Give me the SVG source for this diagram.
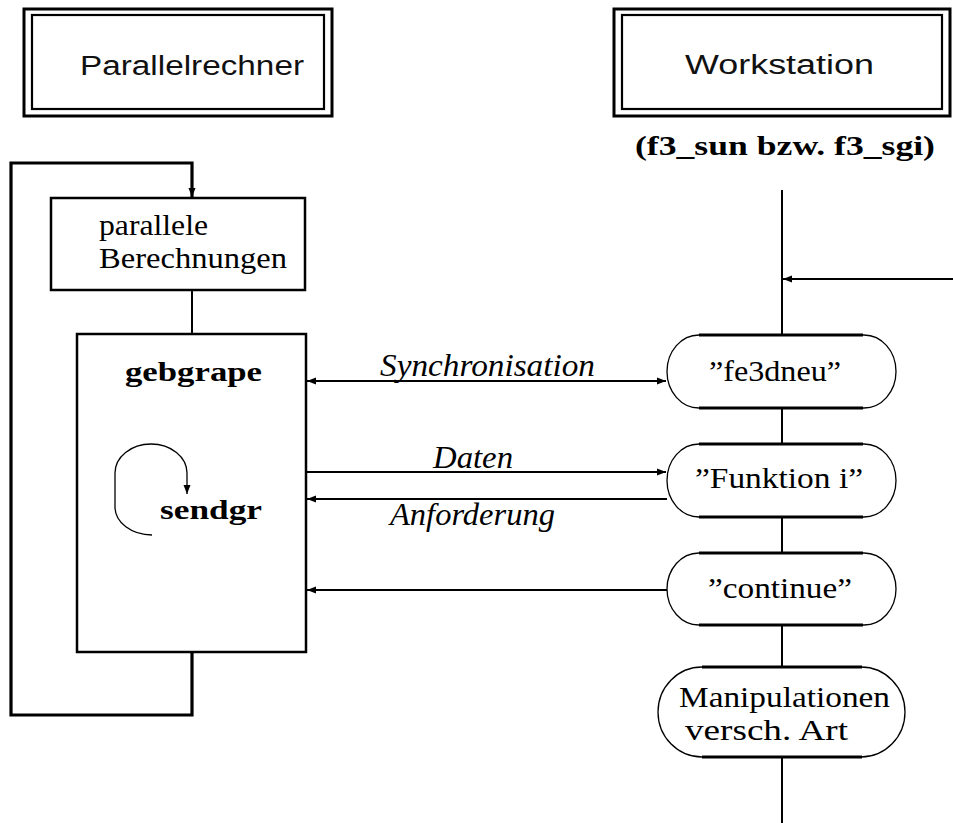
<svg xmlns="http://www.w3.org/2000/svg" width="953" height="823" viewBox="0 0 953 823">
<style>
.bg{fill:#fff}
.box{fill:none;stroke:#000;stroke-width:2.5}
.outer{fill:none;stroke:#000;stroke-width:3}
.inner{fill:none;stroke:#000;stroke-width:2.2}
.thin{fill:none;stroke:#000;stroke-width:1.3}
.edge{fill:none;stroke:#000;stroke-width:3}
.ln{fill:none;stroke:#000;stroke-width:2}
.loop{fill:none;stroke:#000;stroke-width:3.2}
.sans{font-family:"Liberation Sans","DejaVu Sans",sans-serif;font-size:27px;fill:#111}
.rm{font-family:"Liberation Serif","DejaVu Serif",serif;font-size:30px;fill:#000}
.bf{font-family:"Liberation Serif","DejaVu Serif",serif;font-size:28px;font-weight:bold;fill:#000}
.it{font-family:"Liberation Serif","DejaVu Serif",serif;font-size:31px;font-style:italic;fill:#000}
</style>
<defs>
<marker id="ah" markerUnits="userSpaceOnUse" markerWidth="10" markerHeight="8" refX="9" refY="4" orient="auto-start-reverse">
<path d="M0,0.5 L9,4 L0,7.5 z" fill="#000"/>
</marker>
</defs>
<rect class="bg" x="0" y="0" width="953" height="823"/>

<g id="parallelrechner">
<rect class="outer" x="24" y="9" width="308" height="107"/>
<rect class="inner" x="32" y="15" width="292" height="94"/>
<text class="sans" x="80" y="75" textLength="224" lengthAdjust="spacingAndGlyphs">Parallelrechner</text>
</g>

<g id="workstation">
<rect class="outer" x="614" y="9" width="336" height="107"/>
<rect class="inner" x="622" y="15" width="320" height="94"/>
<text class="sans" x="685" y="74" textLength="189" lengthAdjust="spacingAndGlyphs">Workstation</text>
<text class="bf" x="635" y="155" textLength="300" lengthAdjust="spacingAndGlyphs">(f3_sun bzw. f3_sgi)</text>
</g>

<g id="parallele-berechnungen">
<rect class="box" x="51" y="198" width="254" height="92"/>
<text class="rm" x="99" y="235" textLength="109" lengthAdjust="spacingAndGlyphs">parallele</text>
<text class="rm" x="99" y="268" textLength="188" lengthAdjust="spacingAndGlyphs">Berechnungen</text>
</g>

<g id="gebgrape">
<rect class="box" x="77" y="334" width="229" height="318"/>
<text class="bf" x="125" y="381" textLength="137" lengthAdjust="spacingAndGlyphs">gebgrape</text>
<path class="thin" d="M152,535 A37,28 0 0 1 115,507 L115,473 A36,29 0 0 1 151,444 A36,29 0 0 1 187,473 L187,494" marker-end="url(#ah)"/>
<text class="bf" x="160" y="519" textLength="102" lengthAdjust="spacingAndGlyphs">sendgr</text>
</g>

<g id="fe3dneu">
<rect class="thin" x="667" y="335" width="229" height="73" rx="32" ry="36.5"/>
<line class="edge" x1="699" y1="335" x2="863" y2="335"/>
<line class="edge" x1="699" y1="408" x2="863" y2="408"/>
<text class="rm" x="709" y="381" textLength="132" lengthAdjust="spacingAndGlyphs">”fe3dneu”</text>
</g>

<g id="funktion">
<rect class="thin" x="667" y="444" width="229" height="73" rx="32" ry="36.5"/>
<line class="edge" x1="699" y1="444" x2="863" y2="444"/>
<line class="edge" x1="699" y1="517" x2="863" y2="517"/>
<text class="rm" x="695" y="488" textLength="168" lengthAdjust="spacingAndGlyphs">”Funktion i”</text>
</g>

<g id="continue">
<rect class="thin" x="667" y="553" width="229" height="72" rx="32" ry="36"/>
<line class="edge" x1="699" y1="553" x2="863" y2="553"/>
<line class="edge" x1="699" y1="625" x2="863" y2="625"/>
<text class="rm" x="708" y="598" textLength="144" lengthAdjust="spacingAndGlyphs">”continue”</text>
</g>

<g id="manipulationen">
<rect class="thin" x="658" y="667" width="247" height="90" rx="44" ry="45"/>
<line class="edge" x1="702" y1="667" x2="862" y2="667"/>
<line class="edge" x1="702" y1="757" x2="862" y2="757"/>
<text class="rm" x="679" y="707" textLength="211" lengthAdjust="spacingAndGlyphs">Manipulationen</text>
<text class="rm" x="685" y="740" textLength="163" lengthAdjust="spacingAndGlyphs">versch. Art</text>
</g>

<g id="connectors">
<polyline class="loop" points="192,653 192,715 11,715 11,163 192,163 192,197" marker-end="url(#ah)"/>
<line class="ln" x1="192" y1="290" x2="192" y2="334"/>
<line class="ln" x1="782" y1="190" x2="782" y2="335"/>
<line class="ln" x1="782" y1="408" x2="782" y2="444"/>
<line class="ln" x1="782" y1="517" x2="782" y2="553"/>
<line class="ln" x1="782" y1="625" x2="782" y2="667"/>
<line class="ln" x1="782" y1="757" x2="782" y2="823"/>
<line class="ln" x1="953" y1="279" x2="783" y2="279" marker-end="url(#ah)"/>
<line class="ln" x1="307" y1="381" x2="666" y2="381" marker-start="url(#ah)" marker-end="url(#ah)"/>
<line class="ln" x1="307" y1="472" x2="666" y2="472" marker-end="url(#ah)"/>
<line class="ln" x1="667" y1="499" x2="307" y2="499" marker-end="url(#ah)"/>
<line class="ln" x1="667" y1="590" x2="307" y2="590" marker-end="url(#ah)"/>
<text class="it" x="380" y="376" textLength="215" lengthAdjust="spacingAndGlyphs">Synchronisation</text>
<text class="it" x="433" y="468" textLength="80" lengthAdjust="spacingAndGlyphs">Daten</text>
<text class="it" x="390" y="525" textLength="165" lengthAdjust="spacingAndGlyphs">Anforderung</text>
</g>
</svg>
